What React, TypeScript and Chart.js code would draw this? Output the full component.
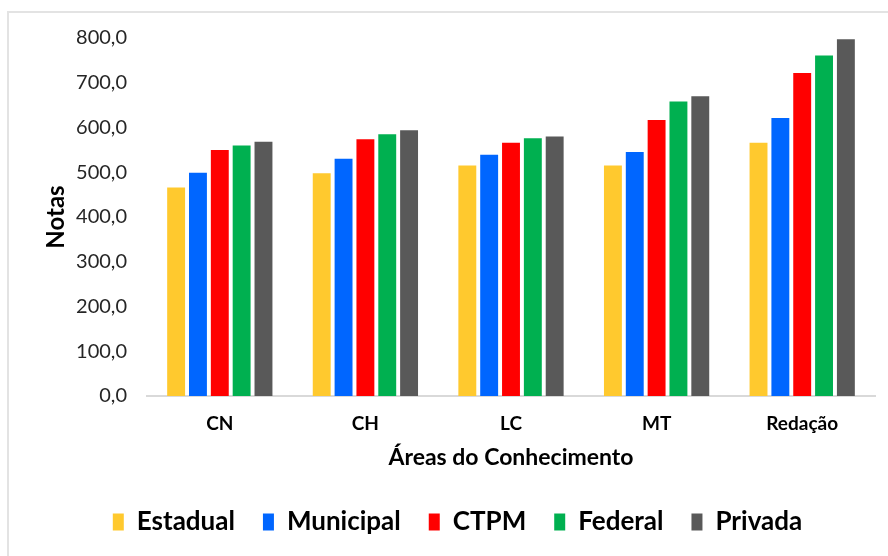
import React, { useEffect, useRef } from "react";
import { Chart, registerables } from "chart.js";

Chart.register(...registerables);

const categories = ["CN", "CH", "LC", "MT", "Redação"];
const estadual = [466, 498, 515, 515, 566];
const municipal = [499, 530, 539, 545, 621];
const ctpm = [550, 574, 566, 617, 722];
const federal = [560, 585, 576, 658, 761];
const privada = [568, 594, 580, 670, 797];
const seriesNames = ["Estadual", "Municipal", "CTPM", "Federal", "Privada"];
const seriesColors = ["#FFC92E", "#0066FF", "#FF0000", "#00B050", "#595959"];
const yTicks = [0, 100, 200, 300, 400, 500, 600, 700, 800];

const FONT = "Lato, 'Liberation Sans', sans-serif";

const legendHeightPlugin = {
  id: "legendHeight",
  beforeLayout(chart: any) {
    const lg = chart.legend;
    if (lg && !lg.__patched) {
      const orig = lg.fit.bind(lg);
      lg.fit = function () {
        orig();
        this.height = 75;
      };
      lg.__patched = true;
    }
  },
};

export default function App() {
  const ref = useRef<HTMLCanvasElement | null>(null);
  useEffect(() => {
    if (!ref.current) return;
    const values = [estadual, municipal, ctpm, federal, privada];
    const chart = new Chart(ref.current, {
      type: "bar",
      data: {
        labels: categories,
        datasets: seriesNames.map((name, i) => ({
          label: name,
          data: values[i],
          backgroundColor: seriesColors[i],
          borderWidth: 0,
          categoryPercentage: 0.75,
          barPercentage: 0.82,
        })),
      },
      plugins: [legendHeightPlugin],
      options: {
        responsive: false,
        animation: false,
        layout: { padding: { left: 40, right: 13, top: 38, bottom: 0 } },
        plugins: {
          tooltip: { enabled: false },
          legend: {
            position: "bottom",
            labels: {
              boxWidth: 11,
              boxHeight: 17,
              padding: 28,
              color: "#000",
              font: { family: FONT, size: 26, weight: "bold" },
            },
          },
        },
        scales: {
          x: {
            grid: { display: false, drawTicks: false },
            border: { display: true, color: "#d9d9d9", width: 2 },
            ticks: {
              color: "#000",
              padding: 16,
              font: { family: FONT, size: 19, weight: "bold" },
            },
            title: {
              display: true,
              text: "Áreas do Conhecimento",
              color: "#000",
              font: { family: FONT, size: 23, weight: "bold" },
              padding: { top: 0, bottom: 10 },
            },
            afterFit: (s: any) => {
              s.height = 85;
            },
          },
          y: {
            min: 0,
            max: 800,
            grid: { display: false, drawTicks: false },
            border: { display: false },
            afterBuildTicks: (s: any) => {
              s.ticks = yTicks.map((v) => ({ value: v }));
            },
            ticks: {
              color: "#262626",
              padding: 20,
              font: { family: FONT, size: 20 },
              callback: (v: any) => Number(v).toFixed(1).replace(".", ","),
            },
            title: {
              display: true,
              text: "Notas",
              color: "#000",
              font: { family: FONT, size: 24, weight: "bold" },
              padding: { top: 2, bottom: 2 },
            },
            afterFit: (s: any) => {
              s.width = 107;
            },
          },
        },
      },
    });
    return () => chart.destroy();
  }, []);
  return (
    <div style={{ position: "fixed", left: 0, top: 0, width: 888, height: 556, background: "#fff", overflow: "hidden" }}>
      <div
        style={{
          position: "absolute",
          left: 7,
          top: 11,
          width: 900,
          height: 600,
          borderLeft: "2px solid #e3e3e3",
          borderTop: "2px solid #e3e3e3",
        }}
      />
      <canvas ref={ref} width={888} height={556} style={{ position: "absolute", left: 0, top: 0 }} />
    </div>
  );
}
